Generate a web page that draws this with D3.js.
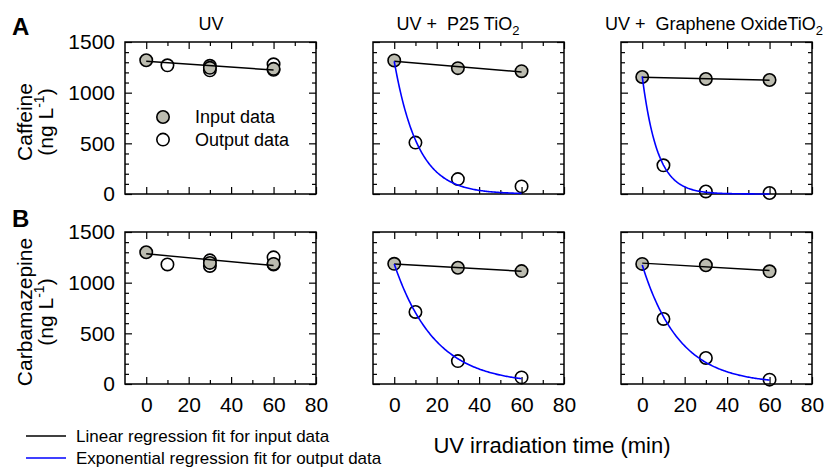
<!DOCTYPE html>
<html>
<head>
<meta charset="utf-8">
<script src="https://cdn.jsdelivr.net/npm/d3@7"></script>
<style>
  body { margin: 0; background: #fff; }
  text { font-family: "Liberation Sans", Arial, sans-serif; fill: #000; }
</style>
</head>
<body>
<script>
// Dados
const rows = ["Caffeine", "Carbamazepine"];
const rowLetters = ["A", "B"];
const treatments = ["UV", "UV +  P25 TiO", "UV +  Graphene OxideTiO"];
const treatmentSub = ["", "2", "2"];
const xTicks = [0, 20, 40, 60, 80];
const xMinor = [10, 30, 50, 70];
const yTicks = [0, 500, 1000, 1500];
const yMinor = [100, 200, 300, 400, 600, 700, 800, 900, 1100, 1200, 1300, 1400];

// entrada (círculos cheios) em t = 0, 30, 60
const inputTimes = [0, 30, 60];
const caffeineInput = [[1320, 1245, 1235], [1318, 1242, 1212], [1155, 1135, 1125]];
const carbamazepineInput = [[1300, 1195, 1185], [1186, 1147, 1114], [1185, 1172, 1112]];

// saída (círculos vazios) como pares [t, valor]
const caffeineOutput = [
  [[10, 1270], [30, 1265], [30, 1220], [60, 1280], [60, 1225]],
  [[10, 507], [30, 147], [60, 75]],
  [[10, 283], [30, 25], [60, 10]]
];
const carbamazepineOutput = [
  [[10, 1180], [30, 1220], [30, 1165], [60, 1250], [60, 1180]],
  [[10, 711], [30, 226], [60, 65]],
  [[10, 642], [30, 257], [60, 43]]
];

// parâmetros do ajuste exponencial [a, k] (null = sem ajuste)
const caffeineExpFit = [null, [1310, 0.09], [1160, 0.14]];
const carbamazepineExpFit = [null, [1185, 0.052], [1175, 0.057]];

// Layout
const W = 827, H = 468;
const colX = [125, 373, 621];
const rowY = [42, 232];
const panelW = 191, panelH = 152;
const titleCx = [211, 458, 714];
const fillGray = "#bcbcb0";

const svg = d3.select("body").append("svg")
  .attr("width", W)
  .attr("height", H);

// Regressão linear simples
const linFit = (ts, vs) => {
  const mt = d3.mean(ts), mv = d3.mean(vs);
  const slope = d3.sum(ts, (t, i) => (t - mt) * (vs[i] - mv)) / d3.sum(ts, t => (t - mt) ** 2);
  return { slope, intercept: mv - slope * mt };
};

const styleAxis = (g, showLabels) => {
  g.select(".domain").remove();
  g.selectAll(".tick line").attr("stroke", "#000").attr("stroke-width", 1.2);
  g.selectAll(".tick text").style("font-size", "21px").attr("fill", "#000");
  if (!showLabels) g.selectAll(".tick text").remove();
};

const drawAxes = (g, x, y, showX, showY) => {
  const fmt = d3.format("d");
  // Eixos com marcas para dentro nos quatro lados
  g.append("g").attr("transform", `translate(0,${panelH})`)
    .call(d3.axisBottom(x).tickValues(xTicks).tickFormat(fmt).tickSize(-7).tickPadding(13))
    .call(a => styleAxis(a, showX));
  g.append("g").attr("transform", `translate(0,${panelH})`)
    .call(d3.axisBottom(x).tickValues(xMinor).tickSize(-4).tickFormat(""))
    .call(a => styleAxis(a, false));
  g.append("g")
    .call(d3.axisTop(x).tickValues(xTicks).tickSize(-7))
    .call(a => styleAxis(a, false));
  g.append("g")
    .call(d3.axisTop(x).tickValues(xMinor).tickSize(-4).tickFormat(""))
    .call(a => styleAxis(a, false));

  g.append("g")
    .call(d3.axisLeft(y).tickValues(yTicks).tickFormat(fmt).tickSize(-7).tickPadding(10))
    .call(a => styleAxis(a, showY));
  g.append("g")
    .call(d3.axisLeft(y).tickValues(yMinor).tickSize(-4).tickFormat(""))
    .call(a => styleAxis(a, false));
  g.append("g").attr("transform", `translate(${panelW},0)`)
    .call(d3.axisRight(y).tickValues(yTicks).tickSize(-7))
    .call(a => styleAxis(a, false));
  g.append("g").attr("transform", `translate(${panelW},0)`)
    .call(d3.axisRight(y).tickValues(yMinor).tickSize(-4).tickFormat(""))
    .call(a => styleAxis(a, false));

  g.append("rect")
    .attr("width", panelW)
    .attr("height", panelH)
    .attr("fill", "none")
    .attr("stroke", "#000")
    .attr("stroke-width", 1.5);
};

rows.forEach((rowName, r) => {
  const inputs = r === 0 ? caffeineInput : carbamazepineInput;
  const outputs = r === 0 ? caffeineOutput : carbamazepineOutput;
  const expFits = r === 0 ? caffeineExpFit : carbamazepineExpFit;

  treatments.forEach((tr, c) => {
    const g = svg.append("g").attr("transform", `translate(${colX[c]},${rowY[r]})`);
    const x = d3.scaleLinear().domain([-10, 80]).range([0, panelW]);
    const y = d3.scaleLinear().domain([0, 1500]).range([panelH, 0]);

    drawAxes(g, x, y, r === 1, c === 0);

    // Pontos de saída (vazios)
    g.selectAll("circle.out")
      .data(outputs[c])
      .enter()
      .append("circle")
      .attr("class", "out")
      .attr("cx", d => x(d[0]))
      .attr("cy", d => y(d[1]))
      .attr("r", 6.2)
      .attr("fill", "none")
      .attr("stroke", "#000")
      .attr("stroke-width", 1.6);

    // Pontos de entrada (cheios)
    g.selectAll("circle.in")
      .data(inputs[c].map((v, i) => [inputTimes[i], v]))
      .enter()
      .append("circle")
      .attr("class", "in")
      .attr("cx", d => x(d[0]))
      .attr("cy", d => y(d[1]))
      .attr("r", 6.2)
      .attr("fill", fillGray)
      .attr("stroke", "#000")
      .attr("stroke-width", 1.6);

    // Ajuste linear
    const fit = linFit(inputTimes, inputs[c]);
    g.append("line")
      .attr("x1", x(0)).attr("y1", y(fit.intercept))
      .attr("x2", x(60)).attr("y2", y(fit.intercept + fit.slope * 60))
      .attr("stroke", "#000")
      .attr("stroke-width", 1.5);

    // Ajuste exponencial
    if (expFits[c]) {
      const [a, k] = expFits[c];
      const pts = d3.range(0, 60.01, 0.5).map(t => [t, a * Math.exp(-k * t)]);
      g.append("path")
        .attr("d", d3.line().x(d => x(d[0])).y(d => y(d[1]))(pts))
        .attr("fill", "none")
        .attr("stroke", "#0000ff")
        .attr("stroke-width", 1.6);
    }

    // Títulos das colunas
    if (r === 0) {
      const t = svg.append("text")
        .attr("x", titleCx[c])
        .attr("y", 30)
        .attr("text-anchor", "middle")
        .style("font-size", "18px")
        .style("white-space", "pre");
      t.append("tspan").text(tr);
      if (treatmentSub[c]) {
        t.append("tspan").attr("dy", 5).style("font-size", "13px").text(treatmentSub[c]);
      }
    }
  });

  // Rótulo do eixo Y
  const cy = rowY[r] + panelH / 2 + 4;
  svg.append("text")
    .attr("transform", `translate(32,${cy}) rotate(-90)`)
    .attr("text-anchor", "middle")
    .style("font-size", "21px")
    .text(rowName);
  const unit = svg.append("text")
    .attr("transform", `translate(53,${cy}) rotate(-90)`)
    .attr("text-anchor", "middle")
    .style("font-size", "21px");
  unit.append("tspan").text("(ng L");
  unit.append("tspan").attr("dy", -9).style("font-size", "14px").text("-1");
  unit.append("tspan").attr("dy", 9).text(")");

  // Letra do painel
  svg.append("text")
    .attr("x", 12)
    .attr("y", r === 0 ? 35 : 227)
    .style("font-size", "24px")
    .style("font-weight", "bold")
    .text(rowLetters[r]);
});

// Legenda dentro do primeiro painel
const leg = svg.append("g").attr("transform", `translate(${colX[0]},${rowY[0]})`);
[["Input data", fillGray], ["Output data", "none"]].forEach(([label, fill], i) => {
  leg.append("circle")
    .attr("cx", 38).attr("cy", 75 + i * 22.6)
    .attr("r", 6.2)
    .attr("fill", fill)
    .attr("stroke", "#000")
    .attr("stroke-width", 1.6);
  leg.append("text")
    .attr("x", 70).attr("y", 75 + i * 22.6)
    .attr("dy", "0.35em")
    .style("font-size", "18px")
    .text(label);
});

// Legenda das linhas de ajuste
[["Linear regression fit for input data", "#000"], ["Exponential regression fit for output data", "#0000ff"]]
  .forEach(([label, color], i) => {
    const yy = 436 + i * 22;
    svg.append("line")
      .attr("x1", 26).attr("x2", 66)
      .attr("y1", yy).attr("y2", yy)
      .attr("stroke", color)
      .attr("stroke-width", 1.5);
    svg.append("text")
      .attr("x", 76).attr("y", yy)
      .attr("dy", "0.35em")
      .style("font-size", "17px")
      .text(label);
  });

// Título do eixo X
svg.append("text")
  .attr("x", 552)
  .attr("y", 453)
  .attr("text-anchor", "middle")
  .style("font-size", "22px")
  .text("UV irradiation time (min)");
</script>
</body>
</html>
